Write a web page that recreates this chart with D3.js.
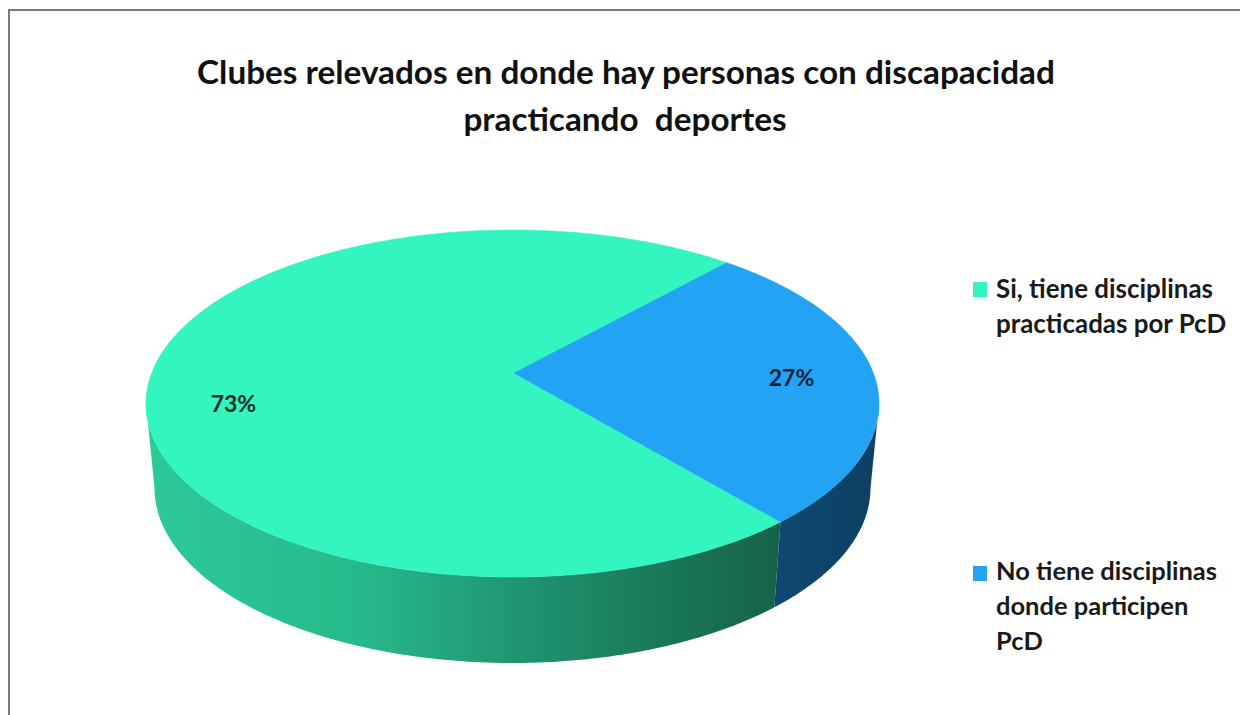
<!DOCTYPE html>
<html>
<head>
<meta charset="utf-8">
<script src="https://cdn.jsdelivr.net/npm/d3@7"></script>
<style>
  html, body { margin: 0; padding: 0; background: #fff; }
  svg { display: block; }
</style>
</head>
<body>
<svg id="chart" width="1240" height="715"></svg>
<script>
// ---- data ----
const titleLines = ["Clubes relevados en donde hay personas con discapacidad", "practicando  deportes"];
const categories = ["Si, tiene disciplinas practicadas por PcD", "No tiene disciplinas donde participen PcD"];
const legendLines = [["Si, tiene disciplinas", "practicadas por PcD"], ["No tiene disciplinas", "donde participen", "PcD"]];
const values = [73, 27];
const valueLabels = ["73%", "27%"];
const topColors = ["#33f5c0", "#22a3f4"];

// ---- layout ----
const svg = d3.select("#chart");
const font = "Lato, 'Open Sans', 'DejaVu Sans', sans-serif";

// chart border (right/bottom edges fall outside the frame)
svg.append("rect").attr("x", 9).attr("y", 10).attr("width", 1260).attr("height", 740)
  .attr("fill", "#fff").attr("stroke", "#7a7a7a").attr("stroke-width", 2);

function fitText(sel, targetW) {
  const w = sel.node().getComputedTextLength();
  const fs = parseFloat(sel.attr("font-size"));
  sel.attr("font-size", fs * targetW / w);
}
// title: first line fitted to measured width, second line uses same size
const titleSpecs = [{y: 84, cx: 626}, {y: 131, cx: 625}];
let titleFs = 28;
titleLines.forEach((t, i) => {
  const s = svg.append("text").attr("x", titleSpecs[i].cx).attr("y", titleSpecs[i].y)
    .attr("text-anchor", "middle").attr("font-family", font).attr("font-weight", "bold")
    .attr("font-size", titleFs).attr("fill", "#111").style("white-space", "pre").text(t);
  if (i === 0) { fitText(s, 858); titleFs = parseFloat(s.attr("font-size")); }
});

// ---- 3D pie geometry ----
const cx = 512.5, cyTop = 403.5, rxTop = 366.5, ryTop = 173.5;
const cyBot = 488, rxBot = 358, ryBot = 175;
const apex = [514, 373];

const deg = Math.PI / 180;
const pie = d3.pie().sort(null).value(d => d).startAngle(133 * deg).endAngle(133 * deg + 2 * Math.PI);
const arcs = pie(values);

const toTheta = a => a - Math.PI / 2;
const topPt = th => [cx + rxTop * Math.cos(th), cyTop + ryTop * Math.sin(th)];
const botPt = th => [cx + rxBot * Math.cos(th), cyBot + ryBot * Math.sin(th)];

function sample(t0, t1, f) {
  const n = Math.max(2, Math.ceil(Math.abs(t1 - t0) / (0.5 * deg)));
  const pts = [];
  for (let i = 0; i <= n; i++) pts.push(f(t0 + (t1 - t0) * i / n));
  return pts;
}
const line = d3.line();

// gradients for side walls
const defs = svg.append("defs");
const sideStops = [
  [[146, "#2dca99"], [360, "#27b98b"], [520, "#1f9571"], [650, "#1a7a5b"], [790, "#156048"]],
  [[770, "#0f4a73"], [880, "#0c3f63"]]
];
sideStops.forEach((stops, i) => {
  const g = defs.append("linearGradient").attr("id", "side" + i)
    .attr("gradientUnits", "userSpaceOnUse").attr("x1", 140).attr("x2", 885).attr("y1", 0).attr("y2", 0);
  stops.forEach(([x, c]) => g.append("stop").attr("offset", (x - 140) / 745).attr("stop-color", c));
});

// side walls: visible front half
const sides = svg.append("g");
arcs.forEach((d, i) => {
  const t0 = toTheta(d.startAngle), t1 = toTheta(d.endAngle);
  const segs = [];
  [0, 2 * Math.PI, -2 * Math.PI].forEach(off => {
    const a = Math.max(t0, off), b = Math.min(t1, off + Math.PI);
    if (b > a) segs.push([a, b]);
  });
  segs.forEach(([a, b]) => {
    const pts = sample(a, b, topPt).concat(sample(b, a, botPt));
    sides.append("path").attr("d", line(pts) + "Z").attr("fill", `url(#side${i})`);
  });
});

// top faces
const tops = svg.append("g");
arcs.forEach((d, i) => {
  const t0 = toTheta(d.startAngle), t1 = toTheta(d.endAngle);
  const pts = [apex].concat(sample(t0, t1, topPt));
  tops.append("path").attr("d", line(pts) + "Z").attr("fill", topColors[i])
    .attr("stroke", topColors[i]).attr("stroke-width", 0.6);
});

// data labels
const labCy = 390, labFrac = 0.765;
arcs.forEach((d, i) => {
  const th = toTheta((d.startAngle + d.endAngle) / 2);
  svg.append("text")
    .attr("x", cx + labFrac * rxTop * Math.cos(th))
    .attr("y", labCy + labFrac * ryTop * Math.sin(th))
    .attr("text-anchor", "middle").attr("dominant-baseline", "central")
    .attr("font-family", font).attr("font-weight", "bold").attr("font-size", 23)
    .attr("fill", i === 0 ? "#0d2a20" : "#0b1e36").text(valueLabels[i]);
});

// legend
const legendSpecs = [{sq: 282, base: [298, 333]}, {sq: 566, base: [580, 615, 650]}];
const legendFirstW = [217, 221];
legendLines.forEach((lines, i) => {
  const g = svg.append("g").attr("class", "legend-item");
  g.append("rect").attr("x", 973).attr("y", legendSpecs[i].sq).attr("width", 14).attr("height", 15)
    .attr("fill", topColors[i]);
  let fs = 21;
  lines.forEach((t, j) => {
    const s = g.append("text").attr("x", 996).attr("y", legendSpecs[i].base[j])
      .attr("font-family", font).attr("font-weight", "bold").attr("font-size", fs)
      .attr("fill", "#1a1a1a").text(t);
    if (j === 0) { fitText(s, legendFirstW[i]); fs = parseFloat(s.attr("font-size")); }
  });
});
</script>
</body>
</html>
